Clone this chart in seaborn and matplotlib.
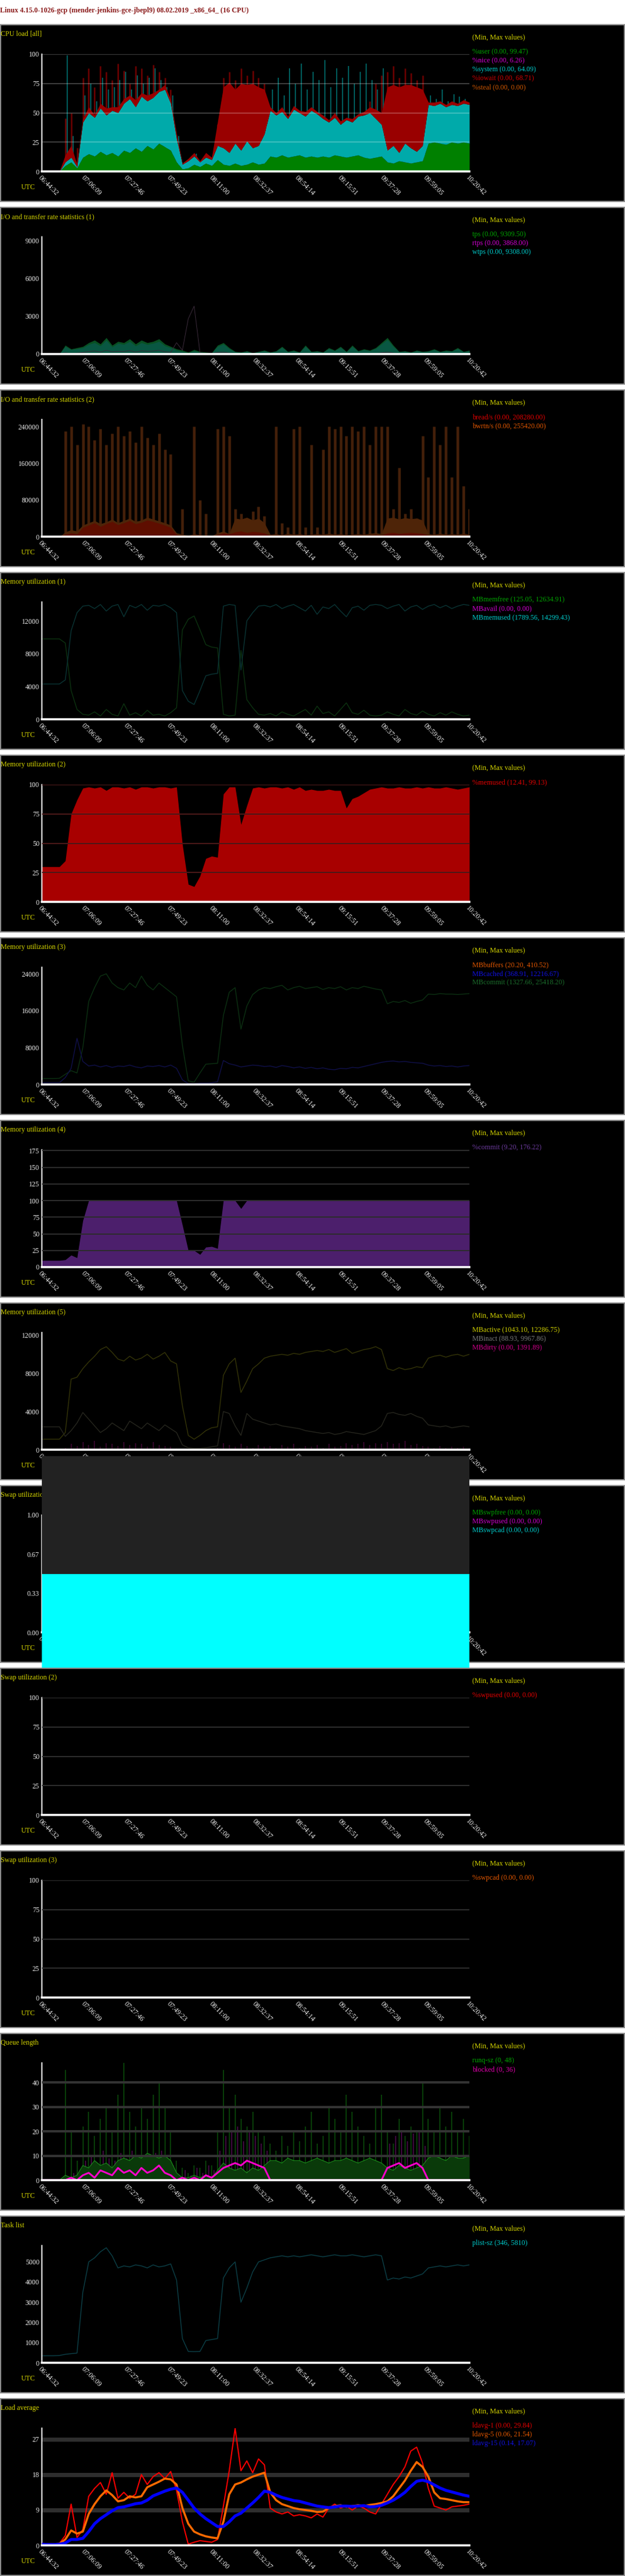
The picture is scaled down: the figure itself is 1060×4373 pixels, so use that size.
import numpy as np
import pandas as pd
import matplotlib
matplotlib.use("Agg")
import matplotlib.pyplot as plt
import seaborn as sns
from matplotlib.patches import Rectangle

sns.set_style("dark")
plt.rcParams['font.family'] = ['Liberation Serif', 'DejaVu Serif']

W, H = 1060, 4373
PX = 0.72           # one pixel in points at dpi 100
FS = 12 * PX
YEL = '#d2d200'
TICKC = '#e6e6e6'

header = "Linux 4.15.0-1026-gcp (mender-jenkins-gce-jbepl9) 08.02.2019 _x86_64_ (16 CPU)"
time_labels = ["06:44:32", "07:06:09", "07:27:46", "07:49:23", "08:11:00", "08:32:37",
               "08:54:14", "09:15:51", "09:37:28", "09:59:05", "10:20:42"]
t_end = 12970          # seconds between first and last label
n_samples = 74

# ---- CPU load [all] (stacked) ----
cpu_user = [0, 0, 0, 0, 5, 8, 3, 12, 15, 13, 17, 14, 16, 13, 18, 16, 20, 17, 22, 19, 24, 21, 18,
            8, 2, 3, 6, 4, 7, 5, 10, 6, 5, 7, 5, 6, 8, 6, 7, 13, 12, 14, 12, 13, 14, 12, 13, 12,
            13, 12, 14, 13, 12, 13, 14, 12, 11, 12, 13, 8, 7, 9, 8, 7, 8, 9,
            24, 25, 24, 23, 25, 24, 25, 24]
cpu_system = [0, 0, 0, 0, 3, 4, 1, 30, 35, 33, 37, 34, 36, 37, 40, 46, 35, 47, 38, 44, 44, 49, 40,
              20, 4, 6, 7, 4, 5, 5, 12, 14, 11, 17, 13, 20, 12, 16, 25, 39, 36, 37, 33, 40, 36, 35, 39, 37,
              32, 30, 32, 27, 32, 29, 33, 36, 39, 33, 27, 10, 15, 7, 16, 13, 9, 13,
              33, 31, 34, 32, 32, 32, 33, 33]
cpu_iowait = [0, 0, 0, 0, 6, 10, 2, 3, 5, 2, 4, 6, 3, 5, 4, 3, 6, 3, 5, 4, 2, 4, 3,
              4, 1, 2, 3, 1, 4, 2, 20, 52, 60, 46, 57, 48, 55, 50, 38,
              3, 2, 4, 2, 3, 2, 4, 3, 2, 3, 2, 4, 3, 2, 3, 2, 3, 5, 8, 10,
              54, 52, 56, 50, 54, 55, 48, 2, 3, 2, 2, 3, 2, 3, 2]
cpu_red_peak = [0, 0, 0, 0, 45, 50, 20, 80, 88, 72, 90, 85, 78, 92, 86, 75, 90, 88, 82, 91, 85, 80, 70,
                20, 5, 10, 14, 8, 12, 10, 40, 80, 85, 78, 88, 82, 86, 80, 75,
                0, 0, 0, 0, 0, 0, 0, 0, 0, 0, 0, 0, 0, 0, 0, 0, 0, 60, 75, 82,
                85, 90, 80, 88, 84, 78, 82, 0, 0, 0, 0, 0, 0, 0, 0]
cpu_cyan_peak = [0, 0, 0, 0, 99, 30, 10, 65, 75, 60, 80, 70, 72, 78, 85, 70, 82, 75, 80, 88, 78, 72, 65,
                 30, 8, 12, 15, 10, 14, 12, 35, 25, 20, 30, 22, 28, 25, 30, 40,
                 70, 80, 65, 88, 75, 92, 70, 85, 78, 95, 72, 88, 80, 90, 75, 85, 92, 78, 70, 88,
                 30, 28, 25, 30, 26, 24, 30, 65, 62, 70, 60, 66, 64, 62, 68]

# ---- I/O (1) ----
io_tps = [0, 0, 0, 0, 700, 400, 500, 600, 900, 1100, 800, 1300, 700, 1000, 900, 1200, 800, 1100, 900,
          1000, 1200, 800, 600, 400, 300, 150, 350, 200, 150, 100, 700, 900, 500,
          200, 150, 250, 100, 200, 300, 150, 250, 600, 200, 300, 150, 700, 200, 250, 150, 500, 300,
          600, 200, 700, 250, 400, 300, 500, 900, 1300, 700,
          200, 250, 150, 300, 200, 250, 400, 200, 300, 250, 500, 200, 300]
io_wtps = [0, 0, 0, 0, 600, 350, 420, 500, 760, 900, 650, 1100, 560, 850, 760, 1000, 640, 900, 760,
           850, 1000, 650, 500, 300, 200, 100, 250, 150, 100, 80, 600, 780, 420,
           180, 130, 220, 90, 180, 260, 130, 220, 520, 180, 260, 130, 600, 180, 220, 130, 430, 260,
           520, 180, 600, 220, 350, 260, 430, 780, 1150, 600,
           180, 220, 130, 260, 180, 220, 350, 180, 260, 220, 430, 180, 260]
io_rtps = [0, 0, 0, 0, 100, 50, 80, 120, 200, 250, 150, 300, 180, 220, 200, 280, 150, 260, 220,
           240, 300, 180, 120, 900, 300, 2800, 3800, 100, 50, 40, 120, 150, 80,
           20, 10, 30, 10, 20, 30, 10, 20, 60, 20, 30, 10, 60, 20, 30, 10, 40, 30,
           60, 20, 60, 30, 40, 30, 50, 100, 150, 80,
           20, 30, 10, 30, 20, 30, 40, 20, 30, 20, 40, 20, 30]

# ---- I/O (2) ----
io_bwrtn = [0, 0, 0, 0, 10000, 15000, 12000, 25000, 30000, 35000, 28000, 32000, 38000, 30000, 35000,
            40000, 33000, 36000, 42000, 38000, 34000, 30000, 25000, 8000, 5000, 3000, 6000, 4000, 3000,
            2000, 8000, 12000, 6000, 40000, 38000, 42000, 36000, 40000, 30000,
            5000, 6000, 4000, 7000, 5000, 6000, 4000, 5000, 6000, 5000, 7000, 5000, 6000, 4000, 5000,
            6000, 5000, 7000, 8000, 6000, 40000, 42000, 38000, 41000, 39000, 40000, 36000,
            6000, 5000, 7000, 5000, 6000, 5000, 7000, 5000]
io_bread = [0, 0, 0, 0, 5000, 8000, 6000, 20000, 25000, 30000, 22000, 28000, 33000, 26000, 30000,
            35000, 28000, 31000, 36000, 33000, 29000, 25000, 20000, 4000, 2000, 1000, 3000, 2000, 1000,
            1000, 4000, 8000, 6000, 10000, 12000, 9000, 11000, 10000, 8000,
            2000, 3000, 2000, 3000, 2000, 3000, 2000, 2000, 3000, 2000, 3000, 2000, 3000, 2000, 2000,
            3000, 2000, 3000, 4000, 3000, 8000, 9000, 7000, 8000, 9000, 8000, 7000,
            3000, 2000, 3000, 2000, 3000, 2000, 3000, 2000]
io_bwrtn_peak = [0, 0, 0, 0, 230000, 240000, 200000, 245000, 240000, 210000, 235000, 200000, 225000,
                 240000, 220000, 230000, 205000, 240000, 215000, 200000, 225000, 190000, 180000,
                 0, 60000, 0, 240000, 80000, 50000, 0, 235000, 240000, 220000,
                 60000, 50000, 40000, 55000, 65000, 45000, 0, 240000, 30000, 20000, 235000, 240000,
                 20000, 200000, 20000, 190000, 240000, 235000, 240000, 220000, 240000, 230000, 240000,
                 200000, 240000, 240000, 240000, 60000, 150000, 50000, 60000, 40000, 220000,
                 130000, 240000, 200000, 240000, 130000, 240000, 110000, 60000]

# ---- Memory (1) ----
mb_memfree = [9800, 9800, 9800, 9800, 9300, 3500, 1200, 600, 500, 900, 400, 1200, 600, 400, 1900, 500,
              800, 400, 1100, 500, 600, 400, 800, 1400, 10900, 12200, 12600, 10900, 9100, 8800, 8700,
              600, 400, 500, 8400, 2400, 1400, 600, 500, 700, 400, 900, 600, 400, 800, 1200, 500,
              1600, 700, 900, 400, 1200, 2000, 800, 600, 1100, 500, 400, 500, 900, 600, 400, 1200,
              700, 500, 1000, 600, 400, 800, 500, 900, 600, 400, 500]
mb_memused = [4300, 4300, 4300, 4300, 4800, 10800, 13000, 13800, 13900, 13500, 14000, 13200, 13800,
              14000, 12500, 13900, 13600, 14000, 13300, 13900, 13800, 14000, 13600, 13000, 3500, 2200,
              1800, 3500, 5300, 5500, 5600, 13800, 14000, 13900, 6000, 12000, 13000, 13800, 13900,
              13700, 14000, 13500, 13800, 14000, 13600, 13200, 13900, 12800, 13700, 13500, 14000,
              13200, 12500, 13600, 13800, 13300, 13900, 14000, 13900, 13500, 13800, 14000, 13200,
              13700, 13900, 13400, 13800, 14000, 13600, 13900, 13500, 13800, 14000, 13900]

# ---- Memory (2) ----
pct_memused = [30, 30, 30, 30, 35, 75, 87, 97, 98, 97, 98, 95, 98, 98, 97, 98, 96, 98, 98, 97, 98, 98,
               97, 98, 49, 15, 13, 22, 37, 39, 38, 92, 98, 98, 66, 82, 97,
               98, 97, 98, 98, 97, 98, 96, 98, 95, 96, 95, 95, 96, 95, 95, 80, 88, 90, 93, 96,
               97, 98, 97, 97, 98, 97, 97, 98, 97, 98, 97, 97, 98, 97, 96, 97, 98]

# ---- Memory (3) ----
mb_commit = [1300, 1300, 1300, 1350, 2200, 3000, 2500, 8000, 18000, 21000, 23500, 24000, 22000,
             21000, 20500, 22000, 21000, 23500, 21500, 20500, 22000, 21000, 20000, 19000, 8500, 800,
             500, 2500, 4400, 4500, 4600, 15000, 20000, 21000, 12000, 17000, 19500, 20500,
             21000, 20800, 21200, 21500, 20500, 21000, 21300, 20800, 21000, 21200, 20600, 21000,
             20800, 21200, 20500, 21000, 20800, 21300, 21000, 20700, 20500,
             17500, 18000, 17800, 18200, 17600, 18000, 18300,
             19600, 19500, 19700, 19600, 19600, 19500, 19600, 19700]
mb_cached = [400, 400, 400, 400, 1500, 3500, 10000, 5000, 4000, 4200, 3800, 4100, 3700, 4000, 3900,
             4200, 3800, 3600, 4000, 3900, 4100, 3800, 4200, 3500, 1000, 200, 150, 300, 300, 350,
             600, 5200, 4500, 4200, 3800, 4000, 4200, 4100, 3900, 4000, 3700, 4100, 3900, 3600,
             3800, 3500, 3700, 3400, 3600, 3300, 3200, 3500, 3400, 3700, 3600, 3900, 4200, 4500,
             4800, 5000, 5100, 4900, 5000, 4800, 4700, 4600, 4200, 4000, 4100, 3900, 4000, 3800,
             4000, 4100]

# ---- Memory (4) ----
pct_commit = [10, 10, 10, 10, 11, 18, 14, 70] + [100] * 16 + [63, 25, 25, 19, 30, 31, 28, 100, 100,
              100, 88] + [100] * 39

# ---- Memory (5) ----
mb_active = [1100, 1100, 1100, 1100, 1800, 7400, 7600, 8500, 9200, 9800, 10500, 10800, 10200,
             9500, 9300, 9800, 9400, 9600, 10000, 9500, 9800, 10200, 9300, 9000, 4600, 1500, 1100,
             1500, 2000, 2300, 2400, 7800, 9000, 9600, 6000, 7200, 8500, 9000,
             9600, 9800, 9900, 10000, 9900, 10100, 10000, 10200, 10300, 10400, 10300, 10500,
             10200, 10400, 10600, 10100, 10300, 10500, 10600, 10800, 10500,
             8500, 8300, 8600, 8400, 8500, 8700, 8600, 9600, 9800, 9900, 9700, 9900, 10000, 9800, 10000]
mb_inact = [2400, 2400, 2400, 2400, 1400, 2000, 2800, 3900, 3200, 2500, 1800, 2200, 2800, 2400, 2000,
            3000, 2600, 2200, 2800, 2400, 2000, 2600, 2200, 1800, 500, 200, 150, 150, 200, 300, 400,
            4000, 3800, 2500, 1500, 3800, 3200, 3000, 2800, 2600, 2700, 2500, 2400, 2300, 2200,
            2000, 1900, 1800, 1700, 1800, 1600, 1700, 1900, 1800, 1700, 1600, 1800, 2000, 2500,
            3800, 3900, 3700, 3600, 3800, 3500, 3300, 2600, 2500, 2400, 2500, 2300, 2400, 2500, 2400]
mb_dirty = [0, 0, 0, 0, 200, 600, 400, 800, 500, 900, 300, 700, 600, 400, 800, 500, 700, 600, 300,
            800, 500, 400, 300, 100, 0, 0, 0, 50, 0, 0, 200, 700, 500, 300, 600, 400, 200, 500, 300,
            400, 200, 500, 300, 600, 200, 400, 300, 500, 200, 600, 300, 400, 700, 500, 600, 800,
            500, 700, 600, 800, 600, 700, 900, 500, 600, 400, 300, 200, 400, 200, 300, 200, 300, 200]

# ---- Swap: all zero ----
mb_swap = [0] * n_samples

# ---- Queue length ----
runq = [0, 0, 0, 0, 2, 1, 2, 6, 5, 8, 6, 7, 5, 8, 9, 8, 10, 9, 11, 10, 9, 10, 8, 3, 1, 1, 2, 1, 2, 1,
        4, 7, 5, 4, 5, 3, 5, 4, 6, 8, 8, 7, 9, 8, 8, 7, 8, 9, 8, 7, 8, 8, 9, 8, 7, 8, 9, 8, 7,
        5, 4, 6, 5, 4, 5, 6, 9, 10, 9, 8, 10, 9, 9, 10]
runq_peak = [0, 0, 0, 0, 45, 20, 8, 22, 28, 18, 25, 30, 20, 35, 48, 28, 22, 30, 25, 35, 40, 30, 20,
             8, 5, 3, 6, 5, 8, 6, 20, 45, 30, 35, 25, 22, 28, 20, 18,
             15, 12, 18, 14, 20, 16, 22, 28, 15, 18, 30, 25, 20, 35, 28, 22, 18, 15, 30, 35,
             20, 15, 25, 18, 22, 20, 40, 25, 20, 30, 22, 28, 20, 25, 18]
blocked = [0, 0, 0, 0, 0, 1, 0, 2, 3, 1, 4, 3, 2, 5, 3, 4, 2, 5, 3, 4, 6, 3, 2, 0, 1, 0, 1, 0, 2, 1,
           3, 5, 6, 7, 6, 8, 7, 6, 5] + [0] * 20 + [5, 6, 7, 5, 6, 7, 5] + [0] * 8
blocked_peak = [0, 0, 0, 0, 0, 3, 0, 8, 10, 6, 12, 9, 8, 11, 9, 12, 7, 10, 9, 11, 12, 8, 6, 2, 4, 2,
                5, 3, 6, 4, 12, 18, 20, 22, 16, 20, 18, 15, 12] + [2] * 20 + [15, 18, 20, 16, 19,
                20, 14] + [0] * 8

# ---- Task list ----
plist_sz = [346, 350, 350, 360, 420, 450, 480, 3500, 5000, 5200, 5500, 5700, 5300,
            4700, 4800, 4750, 4850, 4800, 4700, 4850, 4750, 4800, 4900,
            4100, 1200, 560, 550, 560, 1100, 1150, 1200, 4200, 4700, 5000, 3000, 3700, 4500, 5000,
            5100, 5200, 5250, 5300, 5250, 5300, 5250, 5300, 5350, 5300, 5250, 5300, 5350, 5300,
            5300, 5350, 5300, 5250, 5300, 5350, 5300, 4100, 4200, 4150, 4250, 4200, 4300, 4400,
            4700, 4750, 4800, 4750, 4800, 4850, 4800, 4850]

# ---- Load average ----
ldavg_1 = [0.5, 0.4, 0.3, 0.5, 2.5, 10.5, 2.0, 4.0, 12.5, 14.5, 16.0, 13.0, 18.5, 12.0, 13.5, 12.0,
           13.0, 18.0, 15.5, 17.5, 18.5, 17.0, 18.8, 14.0, 6.0, 0.3, 0.8, 1.2, 1.0, 0.8, 1.5, 10.0,
           19.0, 29.8, 19.0, 21.5, 18.5, 22.0, 20.5, 9.5, 8.5, 8.0, 8.5, 7.5, 7.8, 7.5, 7.0, 8.0,
           7.2, 9.5, 10.5, 9.5, 10.0, 9.0, 10.0, 9.5, 8.5, 8.0, 10.5, 13.0, 15.5, 17.5, 20.0, 24.0,
           25.0, 21.0, 14.5, 10.0, 9.5, 9.0, 9.8, 10.0, 10.2, 10.5]
ldavg_5 = [0.3, 0.3, 0.3, 0.4, 1.5, 3.8, 3.0, 3.5, 8.0, 10.5, 12.5, 14.0, 12.8, 11.2, 11.5, 12.5,
           12.2, 12.5, 14.8, 15.5, 16.2, 17.0, 16.8, 15.5, 9.5, 5.5, 3.5, 2.8, 2.3, 2.0, 1.8, 6.0,
           13.0, 15.5, 16.0, 16.8, 17.5, 18.0, 18.5, 13.5, 11.5, 10.5, 10.0, 9.5, 9.2, 9.0, 8.8,
           8.5, 8.6, 9.5, 10.0, 10.2, 9.8, 10.0, 10.2, 10.0, 10.3, 10.5, 10.8, 11.2, 12.5, 14.5,
           16.5, 19.0, 21.2, 20.0, 17.5, 13.5, 12.0, 11.8, 11.5, 11.2, 11.0, 11.0]
ldavg_15 = [0.3, 0.2, 0.2, 0.3, 0.6, 1.5, 1.5, 1.8, 3.5, 5.5, 6.8, 7.8, 8.8, 9.6, 9.8, 10.2, 10.6,
            10.8, 11.5, 12.6, 13.2, 13.8, 14.3, 14.6, 13.5, 11.5, 9.5, 8.0, 6.8, 5.8, 4.8, 4.8,
            6.0, 7.5, 8.2, 9.5, 10.8, 12.2, 13.8, 13.5, 12.8, 12.2, 11.8, 11.4, 11.2, 10.8, 10.4,
            10.0, 9.8, 9.6, 9.8, 10.0, 10.0, 9.9, 10.0, 10.1, 9.8, 9.9, 10.2, 10.8, 11.5, 12.4,
            13.5, 15.0, 16.3, 16.6, 16.2, 15.4, 14.6, 14.0, 13.6, 13.2, 12.8, 12.5]

t = np.linspace(0, t_end, n_samples)

fig = plt.figure(figsize=(W / 100, H / 100), dpi=100)
fig.patch.set_facecolor('white')
fig.text(0, 1 - 18 / H, header, color='#8b1c1c', fontsize=FS, fontweight='bold',
         va='center', ha='left')


def panel(k, title, legend, ylim, yticks, yticklabels, grid=(), grid_lw=2, grid_col='#3c3c3c',
          grid_alpha=1.0):
    top = 42 + 310 * k
    fig.add_artist(Rectangle((0.5 / W, 1 - (top + 300) / H), 1058 / W, 300 / H,
                             transform=fig.transFigure, facecolor='black',
                             edgecolor='#8c8c8c', lw=1.5, zorder=-1))
    fig.text(1 / W, 1 - (top + 16) / H, title, color=YEL, fontsize=FS, va='center')
    fig.text(801 / W, 1 - (top + 21) / H, "(Min, Max values)", color=YEL, fontsize=FS, va='center')
    for j, (lab, col) in enumerate(legend):
        fig.text(801 / W, 1 - (top + 46 + 15 * j) / H, lab, color=col, fontsize=FS, va='center')
    fig.text(36 / W, 1 - (top + 276) / H, "UTC", color=YEL, fontsize=FS, va='center')

    ax = fig.add_axes([71 / W, 1 - (top + 249) / H, 725 / W, 199 / H])
    ax.set_facecolor('none')
    ax.set_xlim(0, t_end)
    ax.set_ylim(*ylim)
    for s in ['top', 'right']:
        ax.spines[s].set_visible(False)
    ax.spines['left'].set_color('white')
    ax.spines['left'].set_linewidth(2 * PX)
    ax.spines['bottom'].set_color('white')
    ax.spines['bottom'].set_linewidth(3.5 * PX)
    ax.spines['bottom'].set_zorder(4)
    ax.set_xticks(np.linspace(0, t_end, len(time_labels)))
    ax.set_xticklabels(time_labels, rotation=-45, ha='left', va='top',
                       rotation_mode='anchor', color=TICKC, fontsize=FS)
    ax.set_yticks(yticks)
    ax.set_yticklabels(yticklabels, color=TICKC, fontsize=FS)
    ax.tick_params(axis='x', length=0, pad=3)
    ax.tick_params(axis='y', length=2, width=1, color=TICKC, pad=1)
    ax.grid(False)
    for g in grid:
        ax.axhline(g, color=grid_col, lw=grid_lw * PX, alpha=grid_alpha, zorder=3)
    ax.set_xlabel('')
    ax.set_ylabel('')
    return ax


# 1. CPU load
ax = panel(0, "CPU load [all]",
           [("%user (0.00, 99.47)", '#00a000'), ("%nice (0.00, 6.26)", '#cc00cc'),
            ("%system (0.00, 64.09)", '#00c8c8'), ("%iowait (0.00, 68.71)", '#cc0000'),
            ("%steal (0.00, 0.00)", '#cc5500')],
           (0, 100), [0, 25, 50, 75, 100], ["0", "25", "50", "75", "100"], grid=[25, 50, 75, 100],
           grid_col='white', grid_alpha=0.24)
ax.vlines(t, 0, cpu_red_peak, colors='#6e0000', lw=1.8, zorder=0.6)
ax.vlines(t + 60, 0, cpu_cyan_peak, colors='#007878', lw=1.1, zorder=0.7)
ax.stackplot(t, cpu_user, cpu_system, cpu_iowait, colors=['#008000', '#00aaaa', '#990000'], lw=0, zorder=1)

# 2. I/O (1)
ax = panel(1, "I/O and transfer rate statistics (1)",
           [("tps (0.00, 9309.50)", '#00a000'), ("rtps (0.00, 3868.00)", '#cc00cc'),
            ("wtps (0.00, 9308.00)", '#00c8c8')],
           (0, 9310), [0, 3000, 6000, 9000], ["0", "3000", "6000", "9000"])
ax.fill_between(t, io_tps, color='#0a5a26', lw=0, alpha=0.9)
ax.fill_between(t, io_wtps, color='#0a5a50', lw=0, alpha=0.7)
sns.lineplot(x=t, y=io_rtps, ax=ax, color='#3a2a3a', lw=1 * PX)

# 3. I/O (2)
ax = panel(2, "I/O and transfer rate statistics (2)",
           [("bread/s (0.00, 208280.00)", '#dd0000'), ("bwrtn/s (0.00, 255420.00)", '#dd5500')],
           (0, 255420), [0, 80000, 160000, 240000], ["0", "80000", "160000", "240000"])
ax.vlines(t, 0, io_bwrtn_peak, colors='#45200a', lw=4.5 * PX, zorder=0.8)
ax.fill_between(t, io_bwrtn, color='#4e2408', lw=0, zorder=1)
ax.fill_between(t, io_bread, color='#5e0e00', lw=0, zorder=1.1)

# 4. Memory (1)
ax = panel(3, "Memory utilization (1)",
           [("MBmemfree (125.05, 12634.91)", '#00a000'), ("MBavail (0.00, 0.00)", '#cc00cc'),
            ("MBmemused (1789.56, 14299.43)", '#00c8c8')],
           (0, 14300), [0, 4000, 8000, 12000], ["0", "4000", "8000", "12000"])
sns.lineplot(x=t, y=mb_memfree, ax=ax, color='#0c3210', lw=1.4 * PX)
sns.lineplot(x=t, y=mb_memused, ax=ax, color='#0a3434', lw=1.4 * PX)

# 5. Memory (2)
ax = panel(4, "Memory utilization (2)", [("%memused (12.41, 99.13)", '#dd0000')],
           (0, 100), [0, 25, 50, 75, 100], ["0", "25", "50", "75", "100"], grid=[25, 50, 75, 100],
           grid_col='#4a1818')
ax.fill_between(t, pct_memused, color='#a80000', lw=0)

# 6. Memory (3)
ax = panel(5, "Memory utilization (3)",
           [("MBbuffers (20.20, 410.52)", '#dd5500'), ("MBcached (368.91, 12216.67)", '#1010dd'),
            ("MBcommit (1327.66, 25418.20)", '#1a6a2a')],
           (0, 25418), [0, 8000, 16000, 24000], ["0", "8000", "16000", "24000"])
sns.lineplot(x=t, y=mb_commit, ax=ax, color='#0c3012', lw=1.4 * PX)
sns.lineplot(x=t, y=mb_cached, ax=ax, color='#10104a', lw=1.4 * PX)

# 7. Memory (4)
ax = panel(6, "Memory utilization (4)", [("%commit (9.20, 176.22)", '#6a3a9a')],
           (0, 176.22), [0, 25, 50, 75, 100, 125, 150, 175],
           ["0", "25", "50", "75", "100", "125", "150", "175"],
           grid=[25, 50, 75, 100, 125, 150, 175], grid_col='#2c2c2c')
ax.fill_between(t, pct_commit, color='#4c1f6c', lw=0)

# 8. Memory (5)
ax = panel(7, "Memory utilization (5)",
           [("MBactive (1043.10, 12286.75)", '#cccc00'), ("MBinact (88.93, 9967.86)", '#777777'),
            ("MBdirty (0.00, 1391.89)", '#cc0088')],
           (0, 12290), [0, 4000, 8000, 12000], ["0", "4000", "8000", "12000"])
ax.vlines(t, 0, mb_dirty, colors='#3e0832', lw=1.2)
sns.lineplot(x=t, y=mb_active, ax=ax, color='#343408', lw=1.4 * PX)
sns.lineplot(x=t, y=mb_inact, ax=ax, color='#26261e', lw=1.4 * PX)

# 9. Swap (1) - flat zero data, the original renders broken fill boxes
ax = panel(8, "Swap utilization (1)",
           [("MBswpfree (0.00, 0.00)", '#00a000'), ("MBswpused (0.00, 0.00)", '#cc00cc'),
            ("MBswpcad (0.00, 0.00)", '#00c8c8')],
           (0, 1), [0, 1 / 3, 2 / 3, 1], ["0.00", "0.33", "0.67", "1.00"])
ax.set_zorder(5)
sns.lineplot(x=t, y=mb_swap, ax=ax, color='#00a000', lw=1)
ax.fill_between(t, 0.5, 1.5, color='#222222', lw=0, clip_on=False, zorder=5)
ax.fill_between(t, -0.3, 0.5, color='#00ffff', lw=0, clip_on=False, zorder=5)

# 10. Swap (2)
ax = panel(9, "Swap utilization (2)", [("%swpused (0.00, 0.00)", '#dd0000')],
           (0, 100), [0, 25, 50, 75, 100], ["0", "25", "50", "75", "100"], grid=[25, 50, 75, 100],
           grid_col='#2c2c2c')
sns.lineplot(x=t, y=mb_swap, ax=ax, color='#dd0000', lw=1)

# 11. Swap (3)
ax = panel(10, "Swap utilization (3)", [("%swpcad (0.00, 0.00)", '#dd5500')],
           (0, 100), [0, 25, 50, 75, 100], ["0", "25", "50", "75", "100"], grid=[25, 50, 75, 100],
           grid_col='#2c2c2c')
sns.lineplot(x=t, y=mb_swap, ax=ax, color='#dd5500', lw=1)

# 12. Queue length
ax = panel(11, "Queue length", [("runq-sz (0, 48)", '#00a000'), ("blocked (0, 36)", '#dd00aa')],
           (0, 48), [0, 10, 20, 30, 40], ["0", "10", "20", "30", "40"], grid=[10, 20, 30, 40],
           grid_lw=4, grid_col='#333333')
ax.vlines(t, 0, runq_peak, colors='#0a4a0a', lw=1.2, zorder=2)
ax.vlines(t + 80, 0, blocked_peak, colors='#4a0a4a', lw=1.2, zorder=2)
ax.fill_between(t, runq, color='#0a3a0a', lw=0, zorder=2.1)
sns.lineplot(x=t, y=runq, ax=ax, color='#1a8a1a', lw=1.2 * PX, zorder=2.2)
sns.lineplot(x=t, y=blocked, ax=ax, color='#ff00cc', lw=3 * PX, zorder=2.3)

# 13. Task list
ax = panel(12, "Task list", [("plist-sz (346, 5810)", '#00c8c8')],
           (0, 5810), [0, 1000, 2000, 3000, 4000, 5000],
           ["0", "1000", "2000", "3000", "4000", "5000"])
sns.lineplot(x=t, y=plist_sz, ax=ax, color='#0c4048', lw=1.4 * PX)

# 14. Load average
ax = panel(13, "Load average",
           [("ldavg-1 (0.00, 29.84)", '#dd0000'), ("ldavg-5 (0.06, 21.54)", '#dd5500'),
            ("ldavg-15 (0.14, 17.07)", '#1010dd')],
           (0, 29.84), [0, 9, 18, 27], ["0", "9", "18", "27"], grid=[9, 18, 27],
           grid_lw=7, grid_col='#2e2e2e')
for ln in ax.lines:
    ln.set_zorder(1)
sns.lineplot(x=t, y=ldavg_1, ax=ax, color='#ff0000', lw=2 * PX, zorder=3)
sns.lineplot(x=t, y=ldavg_5, ax=ax, color='#ff6a00', lw=3.5 * PX, zorder=3.1)
sns.lineplot(x=t, y=ldavg_15, ax=ax, color='#0000ff', lw=5 * PX, zorder=3.2)

fig.savefig("out.png", dpi=100, facecolor='white')
